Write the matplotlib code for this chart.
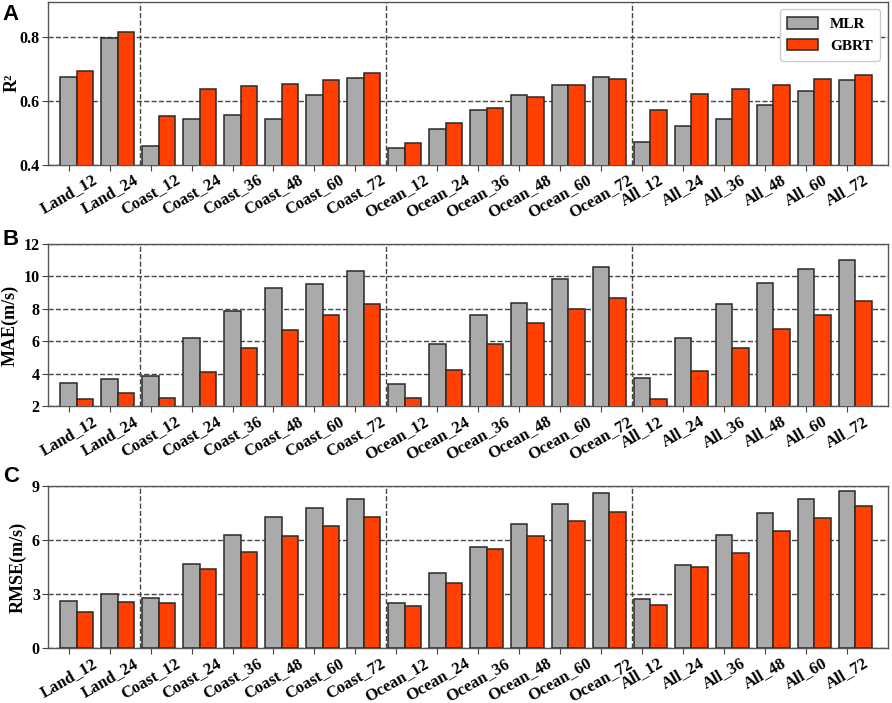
import matplotlib
matplotlib.use("Agg")
import matplotlib.pyplot as plt
import numpy as np

categories = ["Land_12", "Land_24",
              "Coast_12", "Coast_24", "Coast_36", "Coast_48", "Coast_60", "Coast_72",
              "Ocean_12", "Ocean_24", "Ocean_36", "Ocean_48", "Ocean_60", "Ocean_72",
              "All_12", "All_24", "All_36", "All_48", "All_60", "All_72"]

r2_mlr = [0.673, 0.797, 0.457, 0.542, 0.555, 0.543, 0.617, 0.670,
          0.452, 0.510, 0.570, 0.619, 0.648, 0.674,
          0.471, 0.520, 0.544, 0.587, 0.631, 0.665]
r2_gbrt = [0.692, 0.814, 0.553, 0.635, 0.647, 0.651, 0.664, 0.687,
           0.466, 0.531, 0.577, 0.611, 0.649, 0.667,
           0.570, 0.620, 0.637, 0.649, 0.668, 0.681]

mae_mlr = [3.46, 3.70, 3.85, 6.21, 7.89, 9.31, 9.54, 10.34,
           3.40, 5.82, 7.65, 8.39, 9.82, 10.56,
           3.77, 6.23, 8.28, 9.62, 10.44, 10.99]
mae_gbrt = [2.47, 2.82, 2.53, 4.14, 5.57, 6.68, 7.63, 8.30,
            2.51, 4.26, 5.86, 7.15, 7.98, 8.65,
            2.47, 4.18, 5.57, 6.76, 7.63, 8.49]

rmse_mlr = [2.60, 2.99, 2.79, 4.67, 6.25, 7.29, 7.79, 8.27,
            2.49, 4.15, 5.59, 6.88, 7.97, 8.62,
            2.71, 4.61, 6.25, 7.47, 8.25, 8.71]
rmse_gbrt = [2.03, 2.55, 2.51, 4.37, 5.31, 6.20, 6.77, 7.27,
             2.36, 3.60, 5.48, 6.20, 7.03, 7.55,
             2.40, 4.52, 5.28, 6.49, 7.20, 7.88]

group_breaks = [1.75, 7.75, 13.75]

panels = [
    ("A", "R²", r2_mlr, r2_gbrt, (0.4, 0.91), [0.4, 0.6, 0.8], ["0.4", "0.6", "0.8"]),
    ("B", "MAE(m/s)", mae_mlr, mae_gbrt, (2, 12), [2, 4, 6, 8, 10, 12], None),
    ("C", "RMSE(m/s)", rmse_mlr, rmse_gbrt, (0, 9), [0, 3, 6, 9], None),
]
# axes rectangles [left, bottom, width, height] in figure fraction
rects = [[0.054, 0.766, 0.9415, 0.2316],
         [0.054, 0.422, 0.9415, 0.2309],
         [0.054, 0.0778, 0.9415, 0.2313]]
# top of the panel letters, figure fraction
letter_tops = [1 - 4 / 703, 1 - 229 / 703, 1 - 466 / 703]

plt.rcParams['font.family'] = ['Liberation Serif', 'DejaVu Serif']
plt.rcParams['font.weight'] = 'bold'

fig = plt.figure(figsize=(8.92, 7.03), dpi=100)
x = np.arange(len(categories))
w = 0.4

for (letter, ylab, mlr, gbrt, ylim, yt, ytl), rect, ltop in zip(panels, rects, letter_tops):
    ax = fig.add_axes(rect)
    ax.bar(x, mlr, w, color="#aaaaaa", edgecolor="#2a2a2a", linewidth=1.1, label="MLR", zorder=3)
    ax.bar(x + w, gbrt, w, color="#ff4000", edgecolor="#2a2a2a", linewidth=1.1, label="GBRT", zorder=3)
    for b in group_breaks:
        ax.axvline(b, color="#444444", ls="--", lw=1.0, zorder=1)
    ax.set_yticks(yt)
    if ytl:
        ax.set_yticklabels(ytl)
    ax.set_ylim(*ylim)
    ax.set_xlim(-0.5, 20)
    ax.grid(axis="y", color="#444444", ls="--", lw=1.0, zorder=1)
    ax.set_xticks(x)
    ax.set_xticklabels(categories, rotation=30, ha="center",
                       fontsize=12, fontweight="bold")
    ax.tick_params(axis="y", labelsize=11.5, length=4, color="#444444", pad=2)
    ax.tick_params(axis="x", length=4, color="#444444", pad=1)
    for s in ax.spines.values():
        s.set_color("#555555")
        s.set_linewidth(1.0)
    ax.set_ylabel(ylab, fontsize=13, fontweight="bold", labelpad=4)
    if letter == "A":
        ax.yaxis.set_label_coords(-0.033, 0.5)
    fig.text(0.003, ltop, letter, fontsize=16, fontweight="bold",
             family="Liberation Sans", ha="left", va="top")
    if letter == "A":
        ax.legend(loc="upper right", prop={"weight": "bold", "size": 11},
                  handlelength=2.0, handleheight=0.8, borderpad=0.5,
                  framealpha=1, edgecolor="#cccccc")

fig.savefig("out.png", dpi=100)
